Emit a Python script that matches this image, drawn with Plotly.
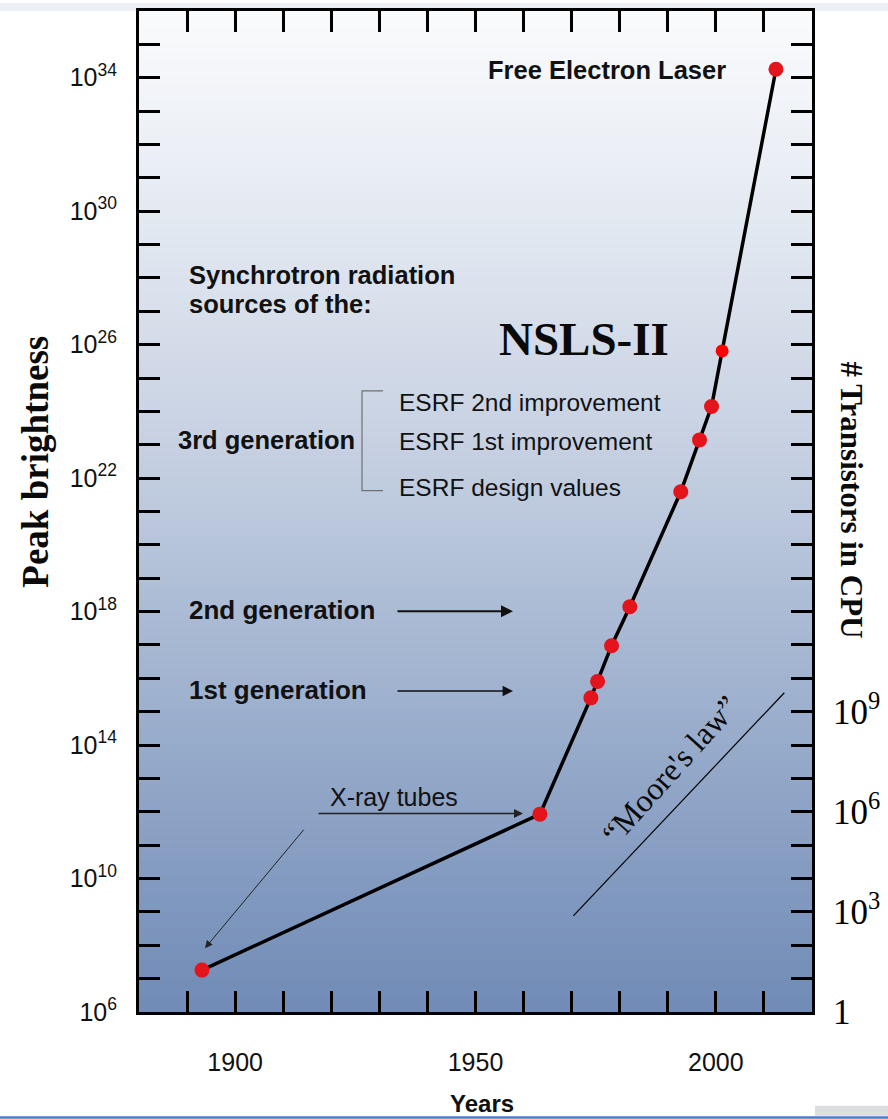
import plotly.graph_objects as go

# ---------------- data ----------------
years = [1893.1, 1963.4, 1974.0, 1975.4, 1978.3, 1982.1, 1992.7, 1996.6, 1999.1, 2012.5]
brightness = [1.8e7, 8.5e11, 2.6e15, 8.1e15, 9.5e16, 1.4e18, 3.9e21, 1.4e23, 1.4e24, 1.8e34]

nsls_year = [2001.3]
nsls_brightness = [6.5e25]

moore_years = [1970.35, 2014.24]
moore_transistors = [7.6e2, 3.7e9]

x_label_years = [1900, 1950, 2000]
x_label_text = ["1900", "1950", "2000"]
x_minor_years = [1890, 1910, 1920, 1930, 1940, 1960, 1970, 1980, 1990, 2010]

y_labelled_exponents = [6, 10, 14, 18, 22, 26, 30, 34]
y_minor_exponents = [7, 8, 9, 11, 12, 13, 15, 16, 17, 19, 20, 21, 23, 24, 25,
                     27, 28, 29, 31, 32, 33, 35]

y2_tick_values = [1, 1e3, 1e6, 1e9]
y2_tick_labels = ["1", "10<sup>3</sup>", "10<sup>6</sup>", "10<sup>9</sup>"]

# ---------------- geometry helpers (pixels -> paper) ----------------
W, H = 888, 1119
L, R, T, B = 139, 812, 8, 1012


def px(x):
    return (x - L) / (R - L)


def py(y):
    return (B - y) / (B - T)


SANS = "Liberation Sans, Arial, sans-serif"
SERIF = "Liberation Serif, Times New Roman, serif"

fig = go.Figure()

# main curve
fig.add_trace(go.Scatter(
    x=years, y=brightness, mode="lines+markers",
    line=dict(color="black", width=3.5),
    marker=dict(color="#e3141c", size=15, line=dict(width=0)),
    hoverinfo="skip",
))
# NSLS-II point
fig.add_trace(go.Scatter(
    x=nsls_year, y=nsls_brightness, mode="markers",
    marker=dict(color="#ff0000", size=13, line=dict(width=0)),
    hoverinfo="skip",
))
# Moore's law line on transistor axis
fig.add_trace(go.Scatter(
    x=moore_years, y=moore_transistors, mode="lines", yaxis="y2",
    line=dict(color="black", width=1.2),
    hoverinfo="skip",
))

# ---------------- background gradient ----------------
stops = [(0.0, (250, 251, 253)), (0.2, (229, 234, 242)), (0.45, (196, 207, 225)),
         (0.7, (156, 175, 205)), (1.0, (112, 139, 182))]


def grad(f):
    for (f0, c0), (f1, c1) in zip(stops[:-1], stops[1:]):
        if f0 <= f <= f1:
            t = (f - f0) / (f1 - f0)
            return tuple(round(a + (b - a) * t) for a, b in zip(c0, c1))
    return stops[-1][1]


shapes = []
N = 120
for i in range(N):
    f = (i + 0.5) / N  # fraction from top
    c = grad(f)
    shapes.append(dict(type="rect", xref="paper", yref="paper", layer="below",
                       x0=0, x1=1, y0=1 - (i + 1) / N - 0.001, y1=1 - i / N + 0.001,
                       fillcolor="rgb(%d,%d,%d)" % c, line=dict(width=0)))

# bracket for 3rd generation
shapes.append(dict(type="path", xref="paper", yref="paper",
                   path="M %f %f L %f %f L %f %f L %f %f" % (px(383), py(389), px(362), py(389),
                                                          px(362), py(489), px(383), py(489)),
                   line=dict(color="#707070", width=1.2)))
# page decorations: light band on top, blue line at bottom
shapes.append(dict(type="rect", xref="paper", yref="paper", layer="below",
                   x0=px(0), x1=px(W), y0=py(T), y1=py(0),
                   fillcolor="#eceff3", line=dict(width=0)))
shapes.append(dict(type="rect", xref="paper", yref="paper", layer="below",
                   x0=px(815), x1=px(W), y0=py(1116), y1=py(1106),
                   fillcolor="#dcdee2", line=dict(width=0)))
shapes.append(dict(type="rect", xref="paper", yref="paper", layer="below",
                   x0=px(0), x1=px(W), y0=py(H), y1=py(1116.5),
                   fillcolor="#4a7fc8", line=dict(width=0)))

# ---------------- annotations ----------------
ann = []


def text(s, x, y, size=24, bold=False, family=SANS, xanchor="left", angle=0, color="#111111"):
    ann.append(dict(text=("<b>%s</b>" % s) if bold else s, xref="paper", yref="paper",
                    x=px(x), y=py(y), xanchor=xanchor, yanchor="middle", showarrow=False,
                    textangle=angle, font=dict(family=family, size=size, color=color)))


def arrow(x0, y0, x1, y1, width=2.0, size=1.0, color="#111111"):
    ann.append(dict(text="", xref="paper", yref="paper", x=px(x1), y=py(y1),
                    ax=x0 - x1, ay=y0 - y1, showarrow=True, arrowhead=2, arrowsize=size,
                    arrowwidth=width, arrowcolor=color, standoff=0, startstandoff=0))


text("Free Electron Laser", 728, 67, size=25.5, bold=True, xanchor="right")
text("Synchrotron radiation", 187, 273, size=25.5, bold=True)
text("sources of the:", 187, 302, size=25.5, bold=True)
text("NSLS-II", 584, 337, size=47, bold=True, family=SERIF, xanchor="center", color="#0a0a0a")
text("ESRF 2nd improvement", 397, 401, size=24.5)
text("ESRF 1st improvement", 397, 440, size=24.5)
text("ESRF design values", 397, 486, size=24.5)
text("3rd generation", 176, 438, size=25.5, bold=True)
text("2nd generation", 187, 609, size=26, bold=True)
text("1st generation", 187, 689, size=26, bold=True)
text("X-ray tubes", 328, 796, size=25)
text("“Moore's law”", 670, 769, size=32, family=SERIF, xanchor="center", angle=-48,
     color="#0a0a0a")
text("Peak brightness", 36, 460, size=37, bold=True, family=SERIF, xanchor="center", angle=-90,
     color="#0a0a0a")
text("# Transistors in CPU", 851, 498, size=31, bold=True, family=SERIF, xanchor="center",
     angle=90, color="#0a0a0a")
text("Years", 482, 1104, size=24, bold=True, xanchor="center")

arrow(396, 610, 513, 610, width=2.0, size=1.2)
arrow(396, 690, 513, 690, width=1.6, size=1.3)
arrow(317, 813, 523, 813, width=1.5, size=1.2, color="#222222")
arrow(305, 828, 205, 948, width=1.0, size=1.5, color="#222222")

# ---------------- axes ----------------
axis_common = dict(showgrid=False, zeroline=False, showline=True, linewidth=3, linecolor="black",
                   mirror="ticks", ticks="inside", ticklen=21, tickwidth=3, tickcolor="black")

fig.update_layout(
    width=W, height=H,
    margin=dict(l=L, r=W - R, t=T, b=H - B),
    paper_bgcolor="white", plot_bgcolor="rgba(0,0,0,0)",
    showlegend=False,
    shapes=shapes, annotations=ann,
    xaxis=dict(range=[1880, 2020], tickmode="array", tickvals=x_label_years, ticktext=x_label_text,
               minor=dict(tickmode="array", tickvals=x_minor_years, ticks="inside", ticklen=21,
                          tickwidth=3, tickcolor="black", showgrid=False),
               tickfont=dict(family=SANS, size=25, color="#111111"), ticklabelstandoff=26,
               **axis_common),
    yaxis=dict(type="log", range=[6, 36], tickmode="array",
               tickvals=[10.0 ** e for e in y_labelled_exponents],
               ticktext=["10<sup>%d</sup>" % e for e in y_labelled_exponents],
               minor=dict(tickmode="array", tickvals=[10.0 ** e for e in y_minor_exponents],
                          ticks="inside", ticklen=21, tickwidth=3, tickcolor="black",
                          showgrid=False),
               tickfont=dict(family=SANS, size=25, color="#111111"), ticklabelstandoff=14,
               **axis_common),
    yaxis2=dict(type="log", range=[0, 30], overlaying="y", side="right", tickmode="array",
                tickvals=y2_tick_values, ticktext=y2_tick_labels, ticks="", showgrid=False,
                zeroline=False, showline=False,
                tickfont=dict(family=SERIF, size=35, color="black"), ticklabelstandoff=20),
)

fig.write_html("out.html")
